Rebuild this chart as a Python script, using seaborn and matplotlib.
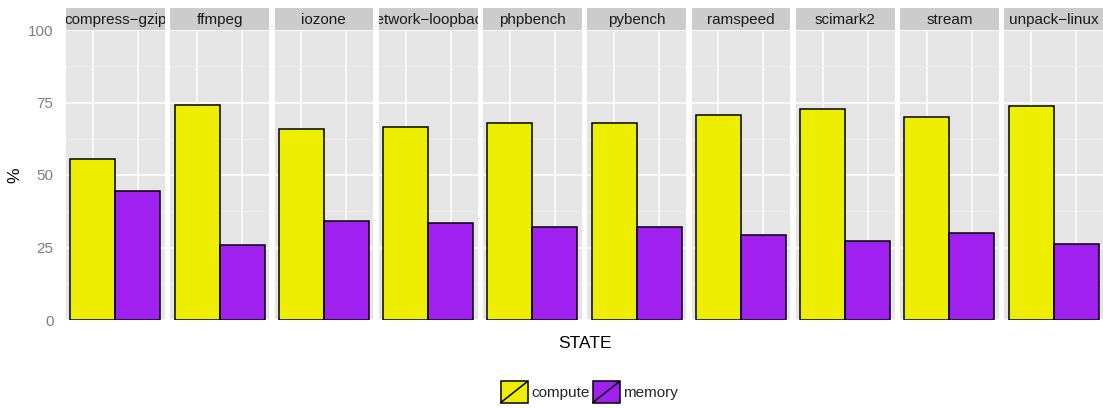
import matplotlib
matplotlib.use("Agg")
import matplotlib.pyplot as plt
import seaborn as sns
import pandas as pd
from matplotlib.patches import Rectangle, Patch
from matplotlib.lines import Line2D
from matplotlib.legend_handler import HandlerBase

benchmarks = ["compress-gzip", "ffmpeg", "iozone", "network-loopback", "phpbench",
              "pybench", "ramspeed", "scimark2", "stream", "unpack-linux"]
compute = [55.5, 74.2, 65.7, 66.6, 68.0, 67.9, 70.8, 72.9, 69.9, 73.9]
memory = [44.5, 25.7, 34.3, 33.4, 32.0, 32.1, 29.2, 27.1, 30.1, 26.1]
states = ["compute", "memory"]
colors = {"compute": "#EEEE00", "memory": "#A020F0"}
y_ticks = [0, 25, 50, 75, 100]

rows = []
for b, c, m in zip(benchmarks, compute, memory):
    rows.append({"benchmark": b, "STATE": "compute", "pct": c})
    rows.append({"benchmark": b, "STATE": "memory", "pct": m})
df = pd.DataFrame(rows)

sns.set_theme(style="white")
plt.rcParams["font.family"] = ["Liberation Sans", "DejaVu Sans"]

W, H = 1103, 408
fig = plt.figure(figsize=(W / 100, H / 100), dpi=100)
fig.patch.set_facecolor("white")

left0 = 66.0
pw = 98.75
gap = 5.5
ptop = 30.0
pbot = 320.0
strip_top = 8.0

for i, b in enumerate(benchmarks):
    x0 = left0 + i * (pw + gap)
    ax = fig.add_axes([x0 / W, 1 - pbot / H, pw / W, (pbot - ptop) / H])
    ax.set_facecolor("#E5E5E5")
    sub = df[df["benchmark"] == b]
    sns.barplot(data=sub, x="STATE", y="pct", hue="STATE", order=states, hue_order=states,
                palette=colors, saturation=1, width=1.0, edgecolor="black", linewidth=1.1,
                errorbar=None, legend=False, ax=ax, zorder=3)
    ax.set_xlim(-0.6, 1.6)
    ax.set_ylim(0, 100)
    ax.set_yticks(y_ticks)
    ax.set_yticks([12.5, 37.5, 62.5, 87.5], minor=True)
    ax.set_xticks([0, 1])
    ax.set_xticklabels(["", ""])
    ax.grid(True, which="major", color="white", linewidth=1.1, zorder=0)
    ax.grid(True, which="minor", axis="y", color="#F2F2F2", linewidth=0.6, zorder=0)
    ax.set_axisbelow(True)
    for s in ax.spines.values():
        s.set_visible(False)
    ax.tick_params(axis="both", which="both", length=0)
    ax.set_xlabel("")
    ax.set_ylabel("")
    if i == 0:
        ax.set_yticklabels([str(t) for t in y_ticks], color="#7F7F7F", fontsize=11)
        ax.tick_params(axis="y", pad=9)
    else:
        ax.set_yticklabels([])
    # strip
    sax = fig.add_axes([x0 / W, 1 - ptop / H, pw / W, (ptop - strip_top) / H])
    sax.set_facecolor("#CCCCCC")
    sax.set_xticks([])
    sax.set_yticks([])
    for s in sax.spines.values():
        s.set_visible(False)
    sax.text(0.5, 0.45, b.replace("-", "\u2212"), ha="center", va="center",
             fontsize=11, color="#1A1A1A", clip_on=True, transform=sax.transAxes)

fig.text(15 / W, 1 - 175 / H, "%", rotation=90, ha="center", va="center",
         fontsize=12.5, color="black")
fig.text(584.5 / W, 1 - 343 / H, "STATE", ha="center", va="center",
         fontsize=12.5, color="black")


class BoxSlash(HandlerBase):
    def create_artists(self, legend, orig_handle, xdescent, ydescent, width, height,
                       fontsize, trans):
        r = Rectangle((-xdescent, -ydescent), width, height,
                      facecolor=orig_handle.get_facecolor(), edgecolor="black",
                      linewidth=1.1, transform=trans)
        ln = Line2D([-xdescent, -xdescent + width], [-ydescent, -ydescent + height],
                    color="black", linewidth=1.1, transform=trans)
        return [r, ln]


handles = [Patch(facecolor=colors[s], label=s) for s in states]
fig.legend(handles=handles, labels=states, handler_map={Patch: BoxSlash()},
           loc="center", bbox_to_anchor=(589.5 / W, 1 - 392 / H), ncol=2,
           frameon=False, fontsize=11, handlelength=1.75, handleheight=1.75,
           handletextpad=0.25, columnspacing=0.2, borderpad=0)

fig.savefig("out.png", dpi=100, facecolor="white")
